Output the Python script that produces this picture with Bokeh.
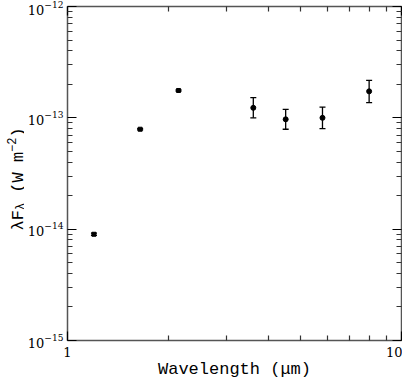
import math
from bokeh.plotting import figure
from bokeh.layouts import row
from bokeh.models import (Range1d, LogAxis, FixedTicker, ColumnDataSource, Whisker,
                          Label, CDSView, IndexFilter, CustomJSTickFormatter)
from bokeh.embed import file_html
from bokeh.resources import INLINE

# ---- data ----
wavelength = [1.2, 1.65, 2.15, 3.6, 4.5, 5.8, 8.0]
flux = [9.0e-15, 7.9e-14, 1.76e-13, 1.23e-13, 9.7e-14, 1.0e-13, 1.73e-13]
flux_lower = [8.8e-15, 7.8e-14, 1.74e-13, 1.0e-13, 7.9e-14, 8.0e-14, 1.37e-13]
flux_upper = [9.2e-15, 8.0e-14, 1.78e-13, 1.52e-13, 1.19e-13, 1.25e-13, 2.17e-13]

x_major = [1, 10]
x_minor = [2, 3, 4, 5, 6, 7, 8, 9]
x_tick_labels = {1: "1", 10: "10"}
y_decades = [-15, -14, -13, -12]
y_major = [10.0 ** e for e in y_decades]
y_minor = [m * 10.0 ** e for e in y_decades[:-1] for m in range(2, 10)]

x_label = "Wavelength (\u03bcm)"

src = ColumnDataSource(dict(x=wavelength, y=flux, lower=flux_lower, upper=flux_upper))

STRIP_W = 24
p = figure(width=402 - STRIP_W, height=381, x_axis_type="log", y_axis_type="log",
           x_range=Range1d(1, 10), y_range=Range1d(1e-15, 1e-12),
           output_backend="svg", toolbar_location=None,
           min_border_left=67 - STRIP_W, min_border_right=1, min_border_top=6,
           min_border_bottom=41)
p.xgrid.visible = False
p.ygrid.visible = False
p.outline_line_color = "#555555"
p.outline_line_width = 1.5
p.background_fill_color = "white"
p.border_fill_color = "white"

bottom = p.below[0]
left = p.left[0]
bottom.ticker = FixedTicker(ticks=x_major, minor_ticks=x_minor)
left.ticker = FixedTicker(ticks=y_major, minor_ticks=y_minor)
bottom.major_label_overrides = x_tick_labels

blank = CustomJSTickFormatter(code="return ''")
right = LogAxis(ticker=FixedTicker(ticks=y_major, minor_ticks=y_minor), formatter=blank)
top = LogAxis(ticker=FixedTicker(ticks=x_major, minor_ticks=x_minor), formatter=blank)
p.add_layout(right, "right")
p.add_layout(top, "above")

for ax in [bottom, left, right, top]:
    ax.axis_line_color = None
    ax.major_tick_in = 9
    ax.major_tick_out = 0
    ax.minor_tick_in = 5
    ax.minor_tick_out = 0
    ax.major_tick_line_color = "black"
    ax.minor_tick_line_color = "#333333"
    ax.major_tick_line_width = 1.2
    ax.minor_tick_line_width = 1.2
    ax.major_label_text_font = "DejaVu Serif"
    ax.major_label_text_font_size = "13px"
    ax.major_label_text_color = "black"

for ax in [right, top]:
    ax.major_label_text_font_size = "1px"
    ax.major_label_standoff = 0

left.major_label_standoff = 4
bottom.major_label_standoff = 6
bottom.axis_label = x_label
bottom.axis_label_text_font = "Liberation Mono"
bottom.axis_label_text_font_size = "17px"
bottom.axis_label_text_font_style = "normal"
bottom.axis_label_text_color = "black"
bottom.axis_label_standoff = 0

# error bars and points
wh = Whisker(base="x", upper="upper", lower="lower", source=src,
             line_color="black", line_width=1.3)
wh.upper_head.size = 6
wh.lower_head.size = 6
wh.upper_head.line_width = 1.3
wh.lower_head.line_width = 1.3
p.add_layout(wh)

p.scatter("x", "y", source=src, view=CDSView(filter=IndexFilter([0, 1, 2])),
          marker="square", size=4, color="black")
p.scatter("x", "y", source=src, view=CDSView(filter=IndexFilter([3, 4, 5, 6])),
          marker="circle", size=5, color="black")

# ---- y axis title strip: λF_λ (W m^-2) ----
strip = figure(width=STRIP_W, height=381, output_backend="svg", toolbar_location=None,
               x_range=Range1d(0, 1), y_range=Range1d(0, 1),
               x_axis_location=None, y_axis_location=None,
               min_border=0, outline_line_color=None)
strip.xgrid.visible = False
strip.ygrid.visible = False

main_fs = 17
small_fs = 12
adv = 0.6  # monospace advance per em
# (text, font size, baseline shift, gap before in chars of main font)
pieces = [("\u03bbF", main_fs, 0, 0), ("\u03bb", small_fs, 2.5, 0),
          ("(W m", main_fs, 0, 1), ("\u22122", small_fs, -7, 0), (")", main_fs, 0, 0)]
pos = 230.0
for txt, fs, dx, gap in pieces:
    pos -= gap * main_fs * adv
    strip.add_layout(Label(x=18 + dx, y=pos, x_units="canvas", y_units="canvas", text=txt,
                           angle=math.pi / 2, text_font="Liberation Mono",
                           text_font_size=f"{fs}px", text_color="black",
                           text_align="left", text_baseline="alphabetic"))
    pos -= len(txt) * fs * adv

layout = row(strip, p, spacing=0)
open("out.html", "w").write(file_html(layout, INLINE))
